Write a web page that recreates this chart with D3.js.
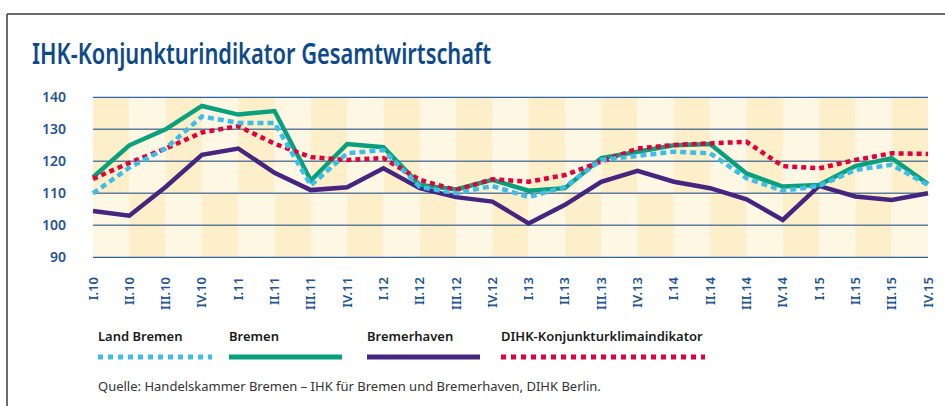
<!DOCTYPE html>
<html>
<head>
<meta charset="utf-8">
<script src="https://cdnjs.cloudflare.com/ajax/libs/d3/7.8.5/d3.min.js"></script>
<style>
  body { margin: 0; background: #fff; font-family: "Noto Sans", sans-serif; }
  svg { display: block; font-family: "Noto Sans", sans-serif; }
</style>
</head>
<body>
<script>
// quarters on the x axis
var quarters = ["I.10","II.10","III.10","IV.10","I.11","II.11","III.11","IV.11",
  "I.12","II.12","III.12","IV.12","I.13","II.13","III.13","IV.13",
  "I.14","II.14","III.14","IV.14","I.15","II.15","III.15","IV.15"];

var landBremen = [110, 118, 124, 134, 132, 132, 112.5, 122.5, 123.5, 112, 110, 112.3,
  108.8, 112, 120.4, 121.7, 123, 122.5, 114.7, 110.8, 112.3, 117.3, 118.9, 112.6];
var bremen = [115, 125, 130, 137.3, 134.6, 135.7, 114, 125.4, 124.4, 112.6, 111.2, 114.2,
  110.8, 111.6, 121, 123, 125, 125.4, 116.2, 112.1, 112.6, 118.5, 121, 112.9];
var bremerhaven = [104.5, 103, 112, 122, 124, 116.4, 111, 111.9, 117.8, 111.6, 108.8, 107.4,
  100.6, 106.4, 113.6, 117, 113.6, 111.6, 108.1, 101.7, 112.3, 109, 107.9, 110];
var dihk = [114.5, 119.5, 124, 129, 131, 125.5, 121.3, 120.4, 121, 114.2, 111, 114.4,
  113.6, 115.7, 119.9, 124, 125.1, 125.6, 126.1, 118.5, 117.8, 120.4, 122.5, 122.3];

var yTicks = [90, 100, 110, 120, 130, 140];

var seriesNames = ["Land Bremen", "Bremen", "Bremerhaven", "DIHK-Konjunkturklimaindikator"];

var W = 945, H = 406;
var blue = "#1f5591";

var svg = d3.select("body").append("svg")
  .attr("width", W)
  .attr("height", H);

// frame (top + left line)
svg.append("line").attr("x1", 7).attr("x2", W).attr("y1", 14).attr("y2", 14)
  .attr("stroke", "#3a3a3a").attr("stroke-width", 1.5);
svg.append("line").attr("x1", 7).attr("x2", 7).attr("y1", 14).attr("y2", H)
  .attr("stroke", "#3a3a3a").attr("stroke-width", 1.5);

svg.append("text")
  .attr("x", 32)
  .attr("y", 64)
  .attr("fill", "#0e4a8a")
  .attr("font-size", 28)
  .attr("font-weight", 600)
  .attr("textLength", 459)
  .attr("lengthAdjust", "spacingAndGlyphs")
  .text("IHK-Konjunkturindikator Gesamtwirtschaft");

var x = d3.scalePoint()
  .domain(quarters)
  .range([93, 928]);

var y = d3.scaleLinear()
  .domain([90, 140])
  .range([257.3, 97.3]);

// background cells: columns alternate, swapped below 110
var bg = svg.append("g");
var dark = "#fdefc9", light = "#fef7e4";
for (var j = 0; j < quarters.length - 1; j++) {
  var x0 = x(quarters[j]), x1 = x(quarters[j + 1]);
  bg.append("rect").attr("x", x0).attr("width", x1 - x0)
    .attr("y", y(140)).attr("height", y(110) - y(140))
    .attr("fill", j % 2 === 0 ? dark : light);
  bg.append("rect").attr("x", x0).attr("width", x1 - x0)
    .attr("y", y(110)).attr("height", y(90) - y(110))
    .attr("fill", j % 2 === 0 ? light : dark);
}

// grid lines
svg.append("g").selectAll("line")
  .data(yTicks)
  .enter().append("line")
  .attr("x1", 93).attr("x2", 928)
  .attr("y1", function(d) { return y(d); })
  .attr("y2", function(d) { return y(d); })
  .attr("stroke", function(d) { return (d == 90 || d == 140) ? "#2f63a0" : "#5c7c99"; })
  .attr("stroke-width", function(d) { return (d == 90 || d == 140) ? 1.3 : 1.6; });

// y labels
svg.append("g").selectAll("text")
  .data(yTicks)
  .enter().append("text")
  .attr("x", 66)
  .attr("y", function(d) { return y(d); })
  .attr("dy", "0.35em")
  .attr("text-anchor", "end")
  .attr("fill", blue)
  .attr("font-size", 14)
  .attr("font-weight", 600)
  .text(function(d) { return d; });

// x labels, rotated
svg.append("g").selectAll("text")
  .data(quarters)
  .enter().append("text")
  .attr("transform", function(d) { return "translate(" + (x(d) + 4.5) + ",277) rotate(-90)"; })
  .attr("text-anchor", "end")
  .attr("fill", blue)
  .attr("font-size", 13)
  .attr("font-weight", 600)
  .text(function(d) { return d; });

var line = d3.line()
  .x(function(d, i) { return x(quarters[i]); })
  .y(function(d) { return y(d); });

var styles = [
  { data: bremerhaven, color: "#45257f", dash: null },
  { data: bremen, color: "#0aa07d", dash: null },
  { data: dihk, color: "#e2003c", dash: "5,4" },
  { data: landBremen, color: "#3fbde9", dash: "6,4" }
];

styles.forEach(function(s) {
  svg.append("path")
    .datum(s.data)
    .attr("d", line)
    .attr("fill", "none")
    .attr("stroke", s.color)
    .attr("stroke-width", 4.5)
    .attr("stroke-linejoin", "miter")
    .attr("stroke-dasharray", s.dash);
});

// legend
var legendItems = [
  { name: seriesNames[0], x0: 98, x1: 212, color: "#3fbde9", dash: "5,5" },
  { name: seriesNames[1], x0: 229, x1: 342, color: "#0aa07d", dash: null },
  { name: seriesNames[2], x0: 367, x1: 480, color: "#45257f", dash: null },
  { name: seriesNames[3], x0: 501, x1: 705, color: "#e2003c", dash: "5,5" }
];
var legend = svg.append("g");
legendItems.forEach(function(d) {
  legend.append("text")
    .attr("x", d.x0)
    .attr("y", 341)
    .attr("fill", "#1a1a1a")
    .attr("font-size", 13)
    .attr("font-weight", 600)
    .text(d.name);
  legend.append("line")
    .attr("x1", d.x0).attr("x2", d.x1)
    .attr("y1", 357).attr("y2", 357)
    .attr("stroke", d.color)
    .attr("stroke-width", 5)
    .attr("stroke-dasharray", d.dash);
});

svg.append("text")
  .attr("x", 98)
  .attr("y", 391)
  .attr("fill", "#333")
  .attr("font-size", 13)
  .text("Quelle: Handelskammer Bremen \u2013 IHK f\u00fcr Bremen und Bremerhaven, DIHK Berlin.");
</script>
</body>
</html>
